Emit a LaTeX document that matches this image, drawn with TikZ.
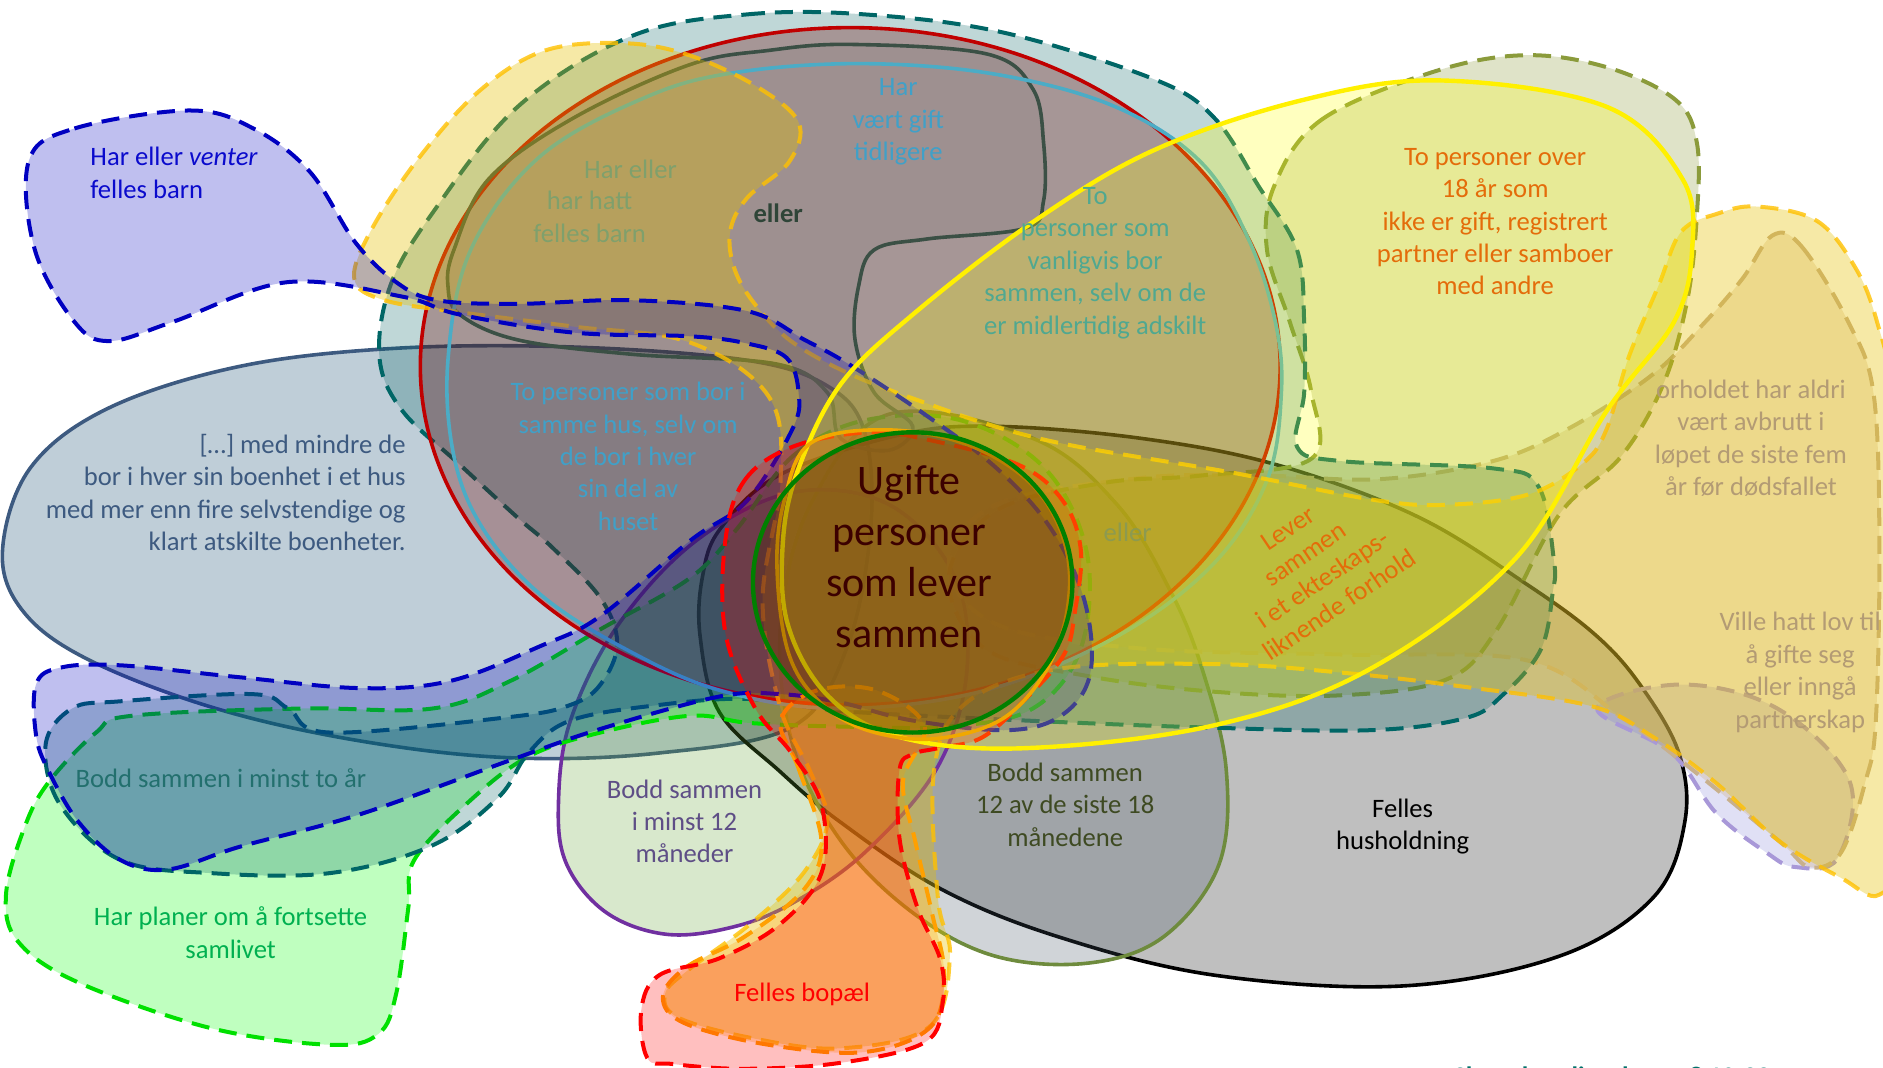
\documentclass[tikz,border=0pt]{standalone}
\usepackage{fontspec}
\setmainfont{Carlito}
\definecolor{cSlate}{HTML}{3D5A80}\definecolor{fSlate}{HTML}{003C64}
\definecolor{cBlack}{HTML}{000000}\definecolor{fGray}{HTML}{000000}
\definecolor{cOl12}{HTML}{6E8B3D}\definecolor{fOl12}{HTML}{435363}
\definecolor{cPurp}{HTML}{7030A0}\definecolor{fPurp}{HTML}{63A333}
\definecolor{cLav}{HTML}{A898D8}\definecolor{fLav}{HTML}{8383D7}
\definecolor{cTan}{HTML}{C8B08C}\definecolor{fTan}{HTML}{C8A060}
\definecolor{cGold}{HTML}{FFC000}\definecolor{fGold}{HTML}{E6C000}
\definecolor{cOlv}{HTML}{8B9B3B}\definecolor{fOlv}{HTML}{8B9B3B}
\definecolor{cTeal}{HTML}{006666}\definecolor{fTeal}{HTML}{006161}
\definecolor{cRed}{HTML}{C00000}\definecolor{fRed}{HTML}{6E0000}
\definecolor{cDark}{HTML}{3B5045}\definecolor{fDark}{HTML}{3B5045}
\definecolor{cCyan}{HTML}{4BACC6}
\definecolor{cBlue}{HTML}{0000C0}\definecolor{fBlue}{HTML}{0000C0}
\definecolor{cGreen}{HTML}{00E000}\definecolor{fGreen}{HTML}{00FF00}
\definecolor{cOrg}{HTML}{FFA000}\definecolor{fOrg}{HTML}{FFA000}
\definecolor{cRedD}{HTML}{FF0000}\definecolor{fRedD}{HTML}{FF0000}
\definecolor{cYel}{HTML}{FFF000}\definecolor{fYel}{HTML}{FFFF00}
\definecolor{cCen}{HTML}{008000}\definecolor{fCen}{HTML}{3A2000}
\definecolor{cCenO}{HTML}{F0A800}
\definecolor{tBlue}{HTML}{0A0ACC}\definecolor{tOlg}{HTML}{7FA06C}
\definecolor{tDark}{HTML}{2F4538}\definecolor{tCyan}{HTML}{40A0C8}
\definecolor{tTealg}{HTML}{50A890}\definecolor{tOrg}{HTML}{E46C0A}
\definecolor{tSlate}{HTML}{3D5A80}\definecolor{tCen}{HTML}{3C0000}
\definecolor{tOlv}{HTML}{8C9A50}\definecolor{tTan}{HTML}{B39B74}
\definecolor{tTeal}{HTML}{23706E}\definecolor{tGreen}{HTML}{00B050}
\definecolor{tPurp}{HTML}{5E4E86}\definecolor{tOl12}{HTML}{3E4A22}
\definecolor{tFoot}{HTML}{00706A}
\begin{document}
\begin{tikzpicture}[x=0.6pt,y=-0.6pt,
  dl/.style={line width=2pt, dash pattern=on 9pt off 5pt},
  sl/.style={line width=1.8pt},
  sm/.style={smooth cycle, tension=0.6},
  fo/.style={fill opacity=#1},
  txt/.style={font=\fontsize{13.3}{16.2}\selectfont, align=center, inner sep=0pt}]
\useasboundingbox (0,0) rectangle (1568,889);

% slate ellipse
\path[sl, draw=cSlate, fill=fSlate, fo=0.25] plot[sm] coordinates {(2,460) (25,390) (90,340) (200,305) (330,290) (478,289) (622,300) (690,322) (720,360) (725,440) (705,540) (660,605) (549,627) (425,631) (300,617) (180,590) (75,550) (20,510)};
% Felles husholdning
\path[sl, draw=cBlack, fill=fGray, fo=0.25] plot[sm] coordinates {(600,440) (650,395) (750,362) (828,355) (950,365) (1063,387) (1180,430) (1272,487) (1330,530) (1367,572) (1398,627) (1403,684) (1377,747) (1299,796) (1168,821) (1011,812) (881,780) (783,740) (699,684) (649,642) (599,593) (583,530) (585,480)};
% Bodd 12 av 18
\path[sl, draw=cOl12, fill=fOl12, fo=0.25] plot[sm] coordinates {(740,345) (860,365) (930,420) (975,493) (1001,557) (1021,640) (1015,720) (969,780) (906,802) (828,796) (760,760) (700,700) (660,620) (650,520) (675,420)};
% Bodd minst 12 mnd
\path[sl, draw=cPurp, fill=fPurp, fo=0.25] plot[sm] coordinates {(475,600) (515,520) (580,450) (660,410) (740,420) (795,480) (805,560) (780,640) (720,710) (660,752) (610,772) (555,778) (505,760) (472,720) (465,670)};
% lavender bottom right
\path[dl, draw=cLav, fill=fLav, fo=0.25] plot[sm] coordinates {(1330,590) (1392,627) (1429,677) (1471,710) (1495,722) (1530,715) (1540,650) (1480,590) (1400,570)};
% tan lobe
\path[dl, draw=cTan, fill=fTan, fo=0.25] plot[sm] coordinates {(1476,196) (1500,205) (1539,268) (1560,327) (1565,450) (1562,600) (1553,652) (1533,710) (1507,722) (1481,700) (1403,636) (1351,598) (1272,550) (1116,545) (950,540) (830,520) (790,470) (830,420) (950,398) (1049,396) (1149,399) (1243,384) (1306,357) (1376,312) (1420,268) (1451,232)};
% green dashed
\path[dl, draw=cGreen, fill=fGreen, fo=0.25] plot[sm] coordinates {(614,440) (660,380) (720,350) (800,350) (870,390) (905,460) (900,540) (860,590) (790,605) (700,605) (624,602) (575,596) (500,610) (440,630) (390,668) (345,716) (340,756) (330,827) (315,861) (275,870) (175,856) (65,818) (15,784) (5,745) (20,690) (40,652) (80,610) (110,596) (250,590) (360,590) (425,567) (500,524) (575,481)};
% olive lobe
\path[dl, draw=cOlv, fill=fOlv, fo=0.28] plot[sm] coordinates {(1061,155) (1100,100) (1193,60) (1269,46) (1338,56) (1395,83) (1413,119) (1413,179) (1405,250) (1385,320) (1350,380) (1298,429) (1246,525) (1204,566) (1116,579) (1011,576) (906,563) (820,540) (790,480) (830,425) (920,402) (1000,396) (1092,382) (1092,327) (1074,268) (1055,208)};
% teal shape
\path[dl, draw=cTeal, fill=fTeal, fo=0.25] plot[sm] coordinates {(526,30) (622,12) (720,12) (835,27) (961,66) (1011,98) (1048,155) (1080,208) (1086,268) (1086,327) (1080,372) (1117,384) (1243,390) (1281,405) (1294,467) (1293,493) (1283,541) (1251,579) (1220,598) (1142,608) (1011,606) (854,600) (700,592) (624,582) (549,587) (475,600) (440,627) (415,664) (360,704) (275,727) (175,727) (100,716) (50,670) (38,620) (60,590) (100,584) (210,578) (240,590) (275,610) (425,597) (475,587) (500,570) (514,536) (500,498) (460,456) (431,431) (383,387) (335,342) (316,298) (325,238) (359,179) (431,89)};
% red ellipse
\path[sl, draw=cRed, fill=fRed, fo=0.3] (708,305) ellipse [x radius=214.8pt, y radius=169.2pt];
% dark C shape
\path[sl, draw=cDark, fill=fDark, fo=0.08] plot[sm] coordinates {(574,54) (640,42) (709,37) (822,45) (860,74) (869,119) (869,167) (854,190) (772,199) (728,208) (715,238) (712,283) (728,327) (760,355) (740,375) (700,365) (689,327) (646,303) (526,295) (431,283) (383,262) (373,238) (378,208) (407,149) (478,98)};
% cyan ellipse
\path[sl, draw=cCyan] plot[sm] coordinates {(373,300) (392,208) (450,130) (540,80) (615,60) (720,53) (830,62) (929,89) (1000,135) (1040,200) (1062,268) (1067,327) (1055,400) (1010,470) (930,530) (820,575) (700,590) (600,575) (520,540) (450,495) (402,440) (378,380)};
% gold shape
\path[dl, draw=cGold, draw opacity=0.8, fill=fGold, fo=0.35] plot[sm] coordinates {(295,232) (310,190) (350,130) (400,75) (454,42) (520,36) (574,46) (630,72) (665,102) (657,135) (622,165) (608,193) (612,225) (630,255) (660,285) (709,312) (772,336) (835,357) (898,372) (1023,393) (1149,417) (1212,420) (1275,411) (1319,385) (1338,357) (1356,298) (1381,238) (1400,193) (1430,178) (1463,172) (1513,184) (1545,223) (1563,268) (1578,340) (1585,500) (1585,700) (1565,745) (1533,731) (1481,700) (1429,652) (1377,614) (1325,588) (1220,572) (1116,560) (1011,553) (881,557) (805,585) (778,640) (781,748) (791,796) (774,855) (699,873) (624,864) (564,847) (554,827) (574,807) (624,770) (669,727) (689,684) (674,641) (650,590) (635,500) (650,400) (640,330) (574,285) (478,272) (383,260) (320,250)};
% blue dashed boomerang
\path[dl, draw=cBlue, fill=fBlue, fo=0.25] plot[sm] coordinates {(24,134) (62,107) (158,92) (211,107) (258,143) (296,202) (330,235) (364,250) (431,253) (526,250) (622,259) (670,283) (708,304) (770,345) (830,390) (875,440) (903,500) (908,560) (885,595) (840,608) (760,600) (700,585) (650,578) (599,580) (500,607) (425,633) (300,678) (200,705) (140,724) (100,716) (65,684) (40,641) (30,612) (30,570) (50,556) (100,554) (200,564) (300,573) (375,567) (450,538) (500,513) (575,450) (622,417) (660,357) (665,327) (655,298) (622,286) (574,280) (478,277) (383,262) (335,247) (239,235) (144,268) (91,284) (62,268) (29,208)};
% orange dashed
\path[dl, draw=cOrg, fill=fOrg, fo=0.25] plot[sm] coordinates {(650,600) (665,640) (684,700) (670,740) (620,780) (572,805) (552,830) (570,852) (640,870) (720,876) (775,855) (786,810) (776,760) (762,700) (752,650) (770,605) (730,575) (680,575)};
% red dashed keyhole
\path[dl, draw=cRedD, fill=fRedD, fo=0.25] plot[sm] coordinates {(604,450) (620,400) (660,372) (722,360) (772,366) (848,387) (885,417) (900,458) (895,510) (886,545) (854,582) (818,614) (781,623) (760,628) (749,641) (749,698) (764,756) (783,799) (785,835) (770,868) (700,885) (620,890) (560,886) (539,881) (534,841) (549,812) (599,798) (649,770) (684,727) (684,670) (659,627) (629,590) (604,527)};
% yellow ellipse
\path[line width=2.2pt, draw=cYel, fill=fYel, fo=0.25] plot[sm] coordinates {(1086,83) (1200,67) (1338,89) (1401,149) (1409,208) (1394,268) (1338,342) (1262,465) (1141,557) (1011,604) (854,623) (750,614) (690,580) (656,520) (652,450) (665,390) (700,320) (760,262) (860,185) (961,125)};
% centre
\path[sl, draw=cCenO, fill=cCenO, fo=0.15] plot[sm] coordinates {(675,369) (653,417) (647,472) (656,542) (681,583) (722,608) (780,615) (840,595) (880,540) (890,470) (865,410) (810,372) (740,358)};
\path[line width=2.2pt, draw=cCen, fill=fCen, fo=0.3] (760,485) ellipse [x radius=79.8pt, y radius=75pt];

% texts
\node[txt, text=tBlue, align=left, anchor=west] (t1) at (75,144) {Har eller \textit{venter}\\felles barn};
\node[txt, text=tOlg] (t2a) at (525,141) {Har eller};
\node[txt, text=tOlg] (t2b) at (491,167) {har hatt};
\node[txt, text=tOlg] (t2c) at (491,194) {felles barn};
\node[txt, text=tDark, font=\fontsize{13.3}{16.2}\selectfont\bfseries] (t3) at (648,178) {eller};
\node[txt, text=tCyan] (t4) at (748,101.5) {Har\\vært gift\\tidligere};
\node[txt, text=tTealg] (t5) at (912,219) {To\\personer som\\vanligvis bor\\sammen, selv om de\\er midlertidig adskilt};
\node[txt, text=tOrg] (t6) at (1245,184.5) {To personer over\\18 år som\\ikke er gift, registrert\\partner eller samboer\\med andre};
\node[txt, text=tSlate, align=right, anchor=east] (t7) at (338,410) {[…] med mindre de\\bor i hver sin boenhet i et hus\\med mer enn fire selvstendige og\\klart atskilte boenheter.};
\node[txt, text=tCyan] (t8) at (523,380) {To personer som bor i\\samme hus, selv om\\de bor i hver\\sin del av\\huset};
\node[txt, text=tCen, font=\fontsize{21}{25.5}\selectfont] (t9) at (757,463.5) {Ugifte\\personer\\som lever\\sammen};
\node[txt, text=tOlv] (t10) at (939,443) {eller};
\node[txt, text=tOrg, rotate=34, font=\fontsize{13.3}{15.4}\selectfont] (t11) at (1094,472) {Lever\\sammen\\i et ekteskaps-\\liknende forhold};
\node[txt, text=tTan] (t12) at (1458,365) {orholdet har aldri\\vært avbrutt i\\løpet de siste fem\\år før dødsfallet};
\node[txt, text=tTan] (t13) at (1499,560) {Ville hatt lov til\\å gifte seg\\eller inngå\\partnerskap};
\node[txt, text=tTeal] (t14) at (184,648) {Bodd sammen i minst to år};
\node[txt, text=tGreen] (t15) at (192,776.5) {Har planer om å fortsette\\samlivet};
\node[txt, text=tPurp] (t16) at (570,684) {Bodd sammen\\i minst 12\\måneder};
\node[txt, text=tOl12] (t17) at (887,670) {Bodd sammen\\12 av de siste 18\\månedene};
\node[txt, text=black] (t18) at (1168,688.5) {Felles\\husholdning};
\node[txt, text=red] (t19) at (668,828) {Felles bopæl};
\node[txt, text=tFoot, font=\fontsize{13.3}{16.2}\selectfont\bfseries, anchor=base west] (t20) at (1210,904) {Skattebetalingsloven § 10-22};
\end{tikzpicture}
\end{document}
